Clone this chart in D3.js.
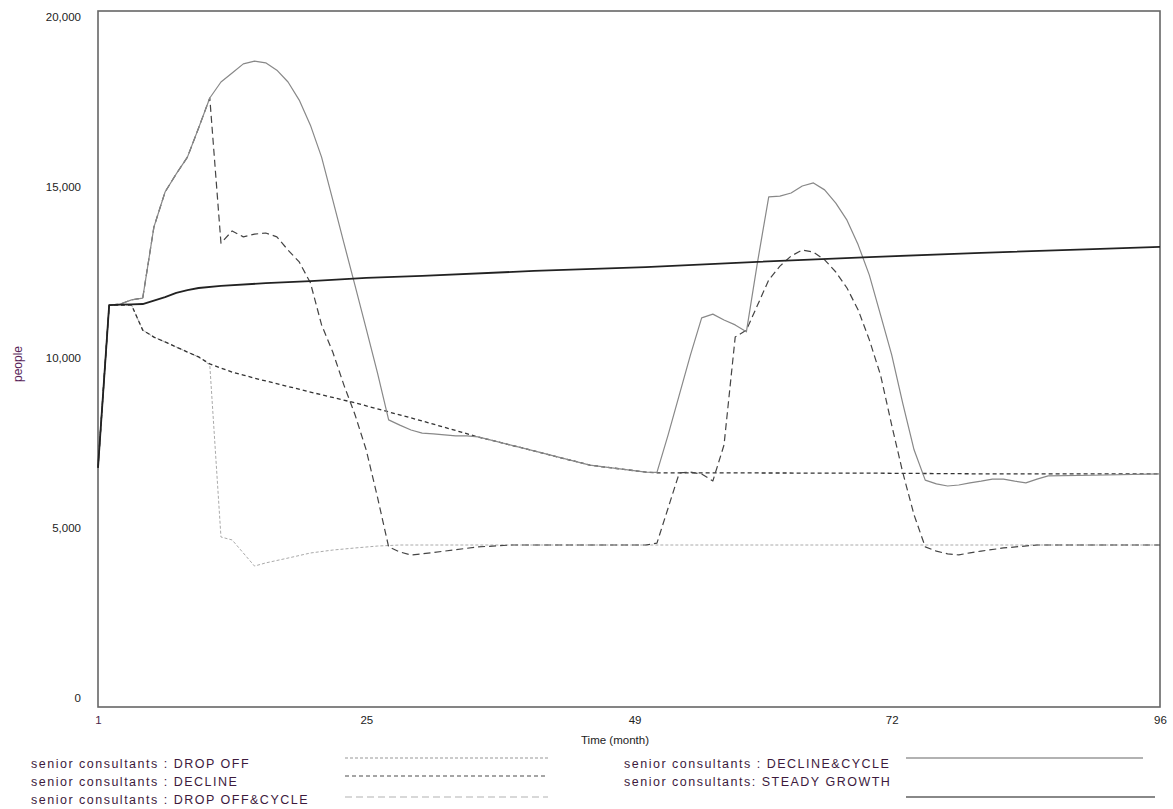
<!DOCTYPE html>
<html>
<head>
<meta charset="utf-8">
<script src="https://cdn.jsdelivr.net/npm/d3@7"></script>
<style>
  body { margin: 0; background: #fff; }
  svg text { font-family: "Liberation Sans", Arial, sans-serif; }
</style>
</head>
<body>
<div id="chart"></div>
<script>
// values, [month, people]
const steadyGrowth = [[1,6870],[2,11550],[3,11560],[4,11570],[5,11580],[6,11680],[7,11780],[8,11900],[9,11980],[10,12040],
  [12,12100],[16,12180],[20,12240],[25,12330],[30,12390],[40,12530],[50,12640],[60,12790],[70,12930],[80,13050],[90,13160],[96,13220]];

const declineCycle = [[1,6870],[2,11550],[3,11580],[4,11700],[5,11750],[6,13790],[7,14800],[8,15320],[9,15800],[10,16640],
  [11,17500],[12,17960],[13,18220],[14,18480],[15,18560],[16,18510],[17,18300],[18,17960],[19,17440],[20,16720],
  [21,15800],[22,14570],[23,13330],[24,12100],[25,10860],[26,9600],[27,8250],[28,8100],[29,7960],[30,7870],
  [31,7850],[32,7820],[33,7790],[34,7790],[35,7760],[40,7360],[45,6950],[50,6750],[51,6740],[52,7820],
  [53,8970],[54,10120],[55,11180],[56,11290],[57,11120],[58,10980],[59,10780],[60,12790],[61,14660],[62,14680],
  [63,14770],[64,14970],[65,15060],[66,14860],[67,14480],[68,13990],[69,13280],[70,12410],[71,11270],[72,10120],
  [73,8710],[74,7390],[75,6520],[76,6410],[77,6350],[78,6380],[79,6440],[80,6490],[81,6550],[82,6550],
  [83,6490],[84,6440],[85,6550],[86,6640],[90,6660],[96,6700]];

const decline = [[1,6870],[2,11550],[3,11550],[4,11550],[5,10830],[6,10630],[7,10490],[8,10345],[9,10200],[10,10060],
  [11,9860],[12,9740],[13,9625],[14,9540],[15,9450],[16,9370],[20,9050],[24,8740],[27,8480],[30,8220],
  [35,7760],[40,7360],[45,6950],[50,6750],[51,6725],[60,6725],[70,6720],[80,6700],[96,6700]];

const dropOff = [[1,6870],[2,11550],[3,11550],[4,11550],[5,10830],[6,10630],[7,10490],[8,10345],[9,10200],[10,10060],
  [11,9830],[12,4885],[13,4800],[14,4425],[15,4050],[16,4140],[18,4280],[20,4425],[22,4510],[24,4570],
  [26,4625],[28,4655],[96,4655]];

const dropOffCycle = [[1,6870],[2,11550],[3,11580],[4,11700],[5,11750],[6,13790],[7,14800],[8,15320],[9,15800],[10,16640],
  [11,17500],[12,13330],[13,13680],[14,13510],[15,13590],[16,13620],[17,13510],[18,13130],[19,12790],[20,12190],
  [21,10980],[22,10200],[23,9250],[24,8390],[25,7380],[26,6030],[27,4600],[28,4455],[29,4370],[30,4400],
  [32,4480],[35,4600],[38,4655],[50,4655],[51,4710],[52,5720],[53,6725],[54,6750],[55,6695],[56,6495],
  [57,7530],[58,10630],[59,10830],[60,11550],[61,12270],[62,12670],[63,12960],[64,13130],[65,13070],[66,12850],
  [67,12500],[68,12040],[69,11410],[70,10550],[71,9540],[72,8100],[73,6725],[74,5520],[75,4600],[76,4480],
  [77,4400],[78,4370],[79,4430],[80,4480],[82,4570],[85,4655],[96,4655]];

const xTicks = [1, 25, 49, 72, 96];
const yTicks = [0, 5000, 10000, 15000, 20000];

const series = [
  { name: "senior consultants : DROP OFF", data: dropOff, color: "#aaa", width: 1, dash: "3,2", legendColor: "#bbb" },
  { name: "senior consultants : DECLINE", data: decline, color: "#333", width: 1.3, dash: "4,3", legendColor: "#888" },
  { name: "senior consultants : DROP OFF&CYCLE", data: dropOffCycle, color: "#444", width: 1.2, dash: "7,4", legendColor: "#ccc" },
  { name: "senior consultants : DECLINE&CYCLE", data: declineCycle, color: "#888", width: 1.2, dash: null, legendColor: "#999" },
  { name: "senior consultants:  STEADY GROWTH", data: steadyGrowth, color: "#222", width: 1.8, dash: null, legendColor: "#888" }
];

const W = 1173, H = 809;
const plot = { left: 98, top: 11, right: 1160, bottom: 707 };

const svg = d3.select("#chart").append("svg")
  .attr("width", W)
  .attr("height", H);

const x = d3.scaleLinear().domain([1, 96]).range([plot.left, plot.right]);
const y = d3.scaleLinear().domain([0, 20000]).range([plot.bottom, plot.top]);
// Vensim puts the value labels slightly inside the frame
const yLab = d3.scaleLinear().domain([0, 20000]).range([698, 17]);

// frame
svg.append("rect")
  .attr("x", plot.left).attr("y", plot.top)
  .attr("width", plot.right - plot.left).attr("height", plot.bottom - plot.top)
  .attr("fill", "none").attr("stroke", "#666").attr("stroke-width", 1.6);

// axes (labels only)
const yAxis = svg.append("g")
  .attr("transform", "translate(" + (plot.left - 14) + ",0)")
  .call(d3.axisLeft(yLab).tickValues(yTicks).tickSize(0).tickFormat(d3.format(",")));
yAxis.select(".domain").remove();
yAxis.selectAll("text").attr("font-size", 11.5).attr("fill", "#222").attr("font-family", "Liberation Sans, Arial");

const xAxis = svg.append("g")
  .attr("transform", "translate(0," + (plot.bottom + 6) + ")")
  .call(d3.axisBottom(x).tickValues(xTicks).tickSize(0));
xAxis.select(".domain").remove();
xAxis.selectAll("text").attr("font-size", 11.5).attr("fill", (d) => d === 1 ? "#4a1f4a" : "#222")
  .attr("font-family", "Liberation Sans, Arial");

svg.append("text")
  .attr("x", 615).attr("y", 744)
  .attr("text-anchor", "middle")
  .attr("font-size", 11.5).attr("fill", "#222")
  .text("Time (month)");

svg.append("text")
  .attr("transform", "translate(22,364) rotate(-90)")
  .attr("text-anchor", "middle")
  .attr("font-size", 12).attr("fill", "#5a1f5a")
  .text("people");

// lines
const line = d3.line()
  .x((d) => x(d[0]))
  .y((d) => y(d[1]));

svg.append("g").selectAll("path")
  .data(series)
  .join("path")
  .attr("d", (d) => line(d.data))
  .attr("fill", "none")
  .attr("stroke", (d) => d.color)
  .attr("stroke-width", (d) => d.width)
  .attr("stroke-dasharray", (d) => d.dash)
  .attr("stroke-linejoin", "round");

// legend
const legendPos = [
  { tx: 31, ty: 768, lx1: 345, lx2: 548, ly: 758 },
  { tx: 31, ty: 786, lx1: 345, lx2: 548, ly: 776 },
  { tx: 31, ty: 804, lx1: 345, lx2: 548, ly: 797 },
  { tx: 624, ty: 768, lx1: 906, lx2: 1143, ly: 758 },
  { tx: 624, ty: 786, lx1: 906, lx2: 1155, ly: 797 }
];

const legend = svg.append("g").selectAll("g")
  .data(series)
  .join("g");

legend.append("text")
  .attr("x", (d, i) => legendPos[i].tx)
  .attr("y", (d, i) => legendPos[i].ty)
  .attr("font-size", 12.5)
  .attr("letter-spacing", 1.5)
  .attr("fill", "#3d1a3d")
  .text((d) => d.name);

legend.append("line")
  .attr("x1", (d, i) => legendPos[i].lx1)
  .attr("x2", (d, i) => legendPos[i].lx2)
  .attr("y1", (d, i) => legendPos[i].ly)
  .attr("y2", (d, i) => legendPos[i].ly)
  .attr("stroke", (d) => d.legendColor)
  .attr("stroke-width", (d, i) => i === 4 ? 2.2 : 1.4)
  .attr("stroke-dasharray", (d) => d.dash);
</script>
</body>
</html>
